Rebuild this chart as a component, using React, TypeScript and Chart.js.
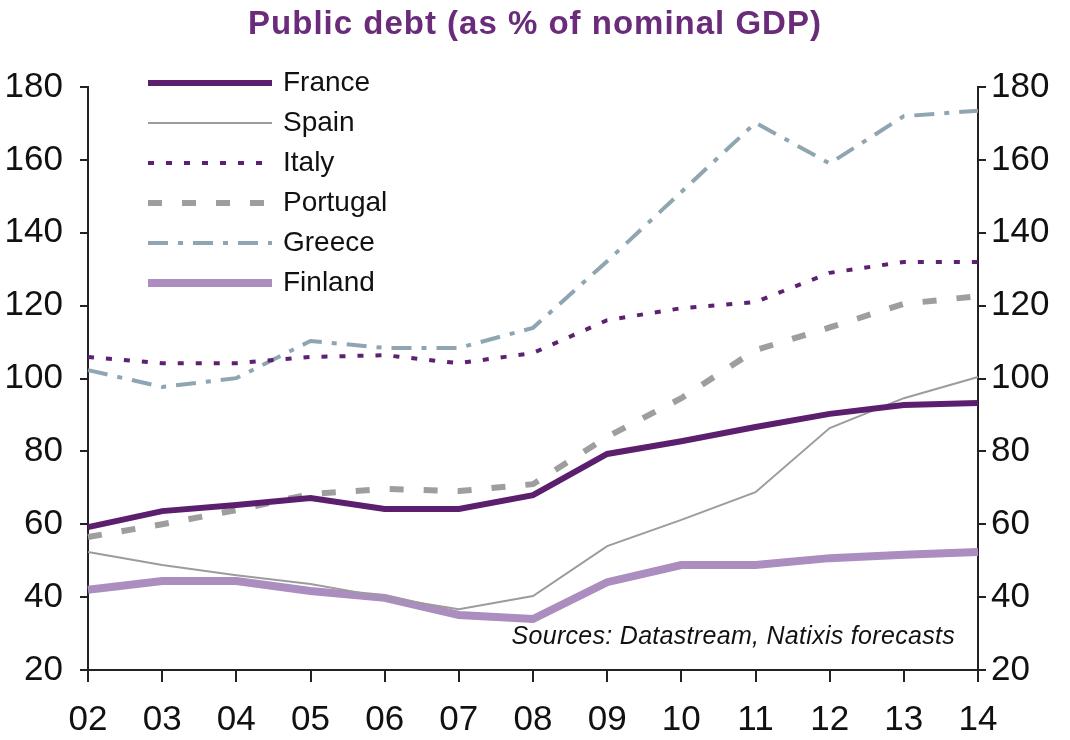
import React, { useEffect, useRef } from "react";
import { Chart, registerables } from "chart.js";

Chart.register(...registerables);

const years = ["02", "03", "04", "05", "06", "07", "08", "09", "10", "11", "12", "13", "14"];
const france = [59.2, 63.6, 65.3, 67.2, 64.2, 64.2, 68.0, 79.3, 82.8, 86.7, 90.3, 92.7, 93.3];
const spain = [52.4, 48.8, 46.0, 43.6, 40.0, 36.7, 40.3, 54.0, 61.2, 68.8, 86.4, 94.6, 100.4];
const italy = [105.9, 104.2, 104.2, 105.9, 106.4, 104.2, 107.0, 116.0, 119.3, 121.0, 129.0, 132.0, 132.0];
const portugal = [56.5, 60.0, 63.9, 68.3, 69.7, 69.1, 71.0, 84.0, 94.6, 107.8, 114.0, 120.5, 122.6];
const greece = [102.3, 97.7, 100.1, 110.3, 108.4, 108.4, 113.9, 132.2, 151.2, 170.2, 159.0, 172.0, 173.5];
const finland = [42.0, 44.4, 44.4, 41.7, 39.8, 35.1, 34.0, 44.1, 48.8, 48.8, 50.7, 51.6, 52.4];
const yTicks = [20, 40, 60, 80, 100, 120, 140, 160, 180];

const TITLE = "Public debt (as % of nominal GDP)";
const SOURCE = "Sources: Datastream, Natixis forecasts";
const FONT = "'Liberation Sans', Arial, sans-serif";

const overlayPlugin = {
  id: "overlay",
  afterDraw(chart: any) {
    const ctx = chart.ctx as any;
    ctx.save();
    // title
    ctx.fillStyle = "#6A2C7A";
    ctx.font = `bold 33px ${FONT}`;
    ctx.letterSpacing = "1px";
    ctx.textAlign = "center";
    ctx.textBaseline = "middle";
    ctx.fillText(TITLE, 535, 25);
    ctx.letterSpacing = "0px";
    // legend
    chart.data.datasets.forEach((ds: any, i: number) => {
      const y = 83 + i * 40;
      ctx.beginPath();
      ctx.strokeStyle = ds.borderColor;
      ctx.lineWidth = ds.borderWidth;
      ctx.setLineDash(ds.borderDash || []);
      ctx.lineCap = "butt";
      ctx.moveTo(148, y);
      ctx.lineTo(272, y);
      ctx.stroke();
      ctx.setLineDash([]);
      ctx.fillStyle = "#111";
      ctx.font = `28px ${FONT}`;
      ctx.textAlign = "left";
      ctx.textBaseline = "middle";
      ctx.fillText(ds.label, 283, y);
    });
    // source
    ctx.fillStyle = "#111";
    ctx.font = `italic 25px ${FONT}`;
    ctx.letterSpacing = "0.3px";
    ctx.textAlign = "right";
    ctx.textBaseline = "middle";
    ctx.fillText(SOURCE, 955, 637);
    ctx.restore();
  },
};

export default function App() {
  const ref = useRef<HTMLCanvasElement>(null);
  useEffect(() => {
    if (!ref.current) return;
    const tickFont = { family: FONT, size: 35 };
    const chart = new Chart(ref.current, {
      type: "line",
      data: {
        labels: years,
        datasets: [
          { label: "France", data: france, borderColor: "#5B1F6E", borderWidth: 6, borderDash: [] },
          { label: "Spain", data: spain, borderColor: "#9C9C9C", borderWidth: 2, borderDash: [] },
          { label: "Italy", data: italy, borderColor: "#5C2170", borderWidth: 4, borderDash: [6, 12] },
          { label: "Portugal", data: portugal, borderColor: "#9E9E9E", borderWidth: 6, borderDash: [14, 20] },
          { label: "Greece", data: greece, borderColor: "#8FA5B1", borderWidth: 4, borderDash: [20, 10, 5, 10] },
          { label: "Finland", data: finland, borderColor: "#AB8DBF", borderWidth: 8, borderDash: [] },
        ].map((d) => ({ ...d, pointRadius: 0, tension: 0, fill: false, backgroundColor: d.borderColor })),
      },
      options: {
        animation: false,
        responsive: false,
        maintainAspectRatio: false,
        layout: { padding: { top: 87, left: 0, right: 0, bottom: 0 } },
        plugins: { legend: { display: false }, title: { display: false }, tooltip: { enabled: false } },
        scales: {
          x: {
            offset: false,
            grid: { display: true, drawOnChartArea: false, drawTicks: true, tickLength: 12, color: "#222", lineWidth: 2 },
            border: { display: true, color: "#222", width: 2 },
            ticks: { font: tickFont, color: "#111", padding: 17, maxRotation: 0, autoSkip: false },
            afterFit: (s: any) => { s.height = 70; },
          },
          y: {
            position: "left",
            min: 20,
            max: 180,
            afterBuildTicks: (s: any) => { s.ticks = yTicks.map((v) => ({ value: v })); },
            grid: { display: true, drawOnChartArea: false, drawTicks: true, tickLength: 8, color: "#222", lineWidth: 2 },
            border: { display: true, color: "#222", width: 2 },
            ticks: { font: tickFont, color: "#111", padding: 17 },
            afterFit: (s: any) => { s.width = 88; },
          },
          y2: {
            position: "right",
            min: 20,
            max: 180,
            afterBuildTicks: (s: any) => { s.ticks = yTicks.map((v) => ({ value: v })); },
            grid: { display: true, drawOnChartArea: false, drawTicks: true, tickLength: 8, color: "#222", lineWidth: 2 },
            border: { display: true, color: "#222", width: 2 },
            ticks: { font: tickFont, color: "#111", padding: 5 },
            afterFit: (s: any) => { s.width = 92; },
          },
        },
      },
      plugins: [overlayPlugin],
    });
    return () => chart.destroy();
  }, []);
  return (
    <div style={{ position: "absolute", left: 0, top: 0, width: 1070, height: 740, background: "#fff" }}>
      <canvas ref={ref} width={1070} height={740} style={{ width: 1070, height: 740 }} />
    </div>
  );
}
